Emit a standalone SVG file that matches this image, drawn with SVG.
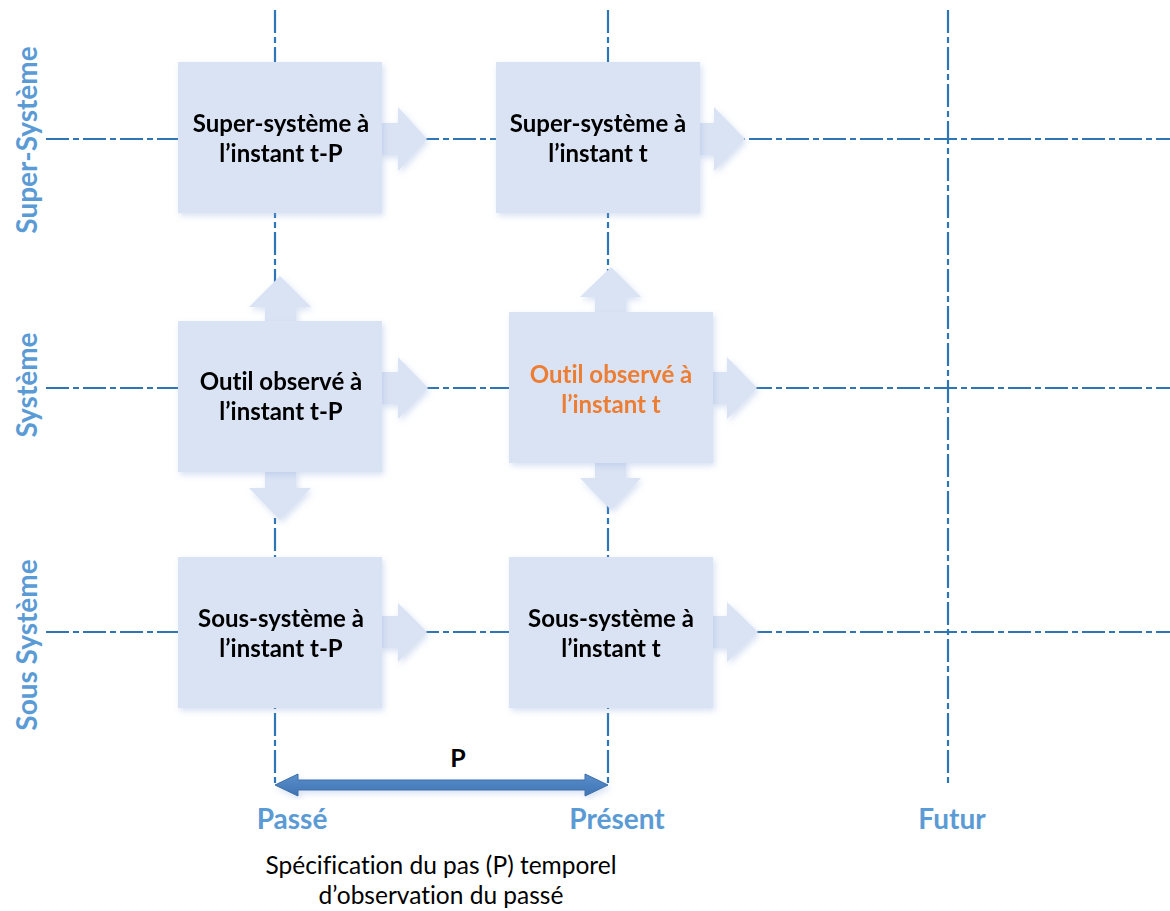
<svg xmlns="http://www.w3.org/2000/svg" width="1170" height="911" viewBox="0 0 1170 911">
  <defs>
    <filter id="soft" x="-10%" y="-10%" width="125%" height="125%">
      <feGaussianBlur in="SourceAlpha" stdDeviation="3"/>
      <feOffset dx="2" dy="3" result="b"/>
      <feFlood flood-color="#8faadc" flood-opacity="0.35"/>
      <feComposite in2="b" operator="in"/>
      <feMerge><feMergeNode/><feMergeNode in="SourceGraphic"/></feMerge>
    </filter>
    <linearGradient id="pgrad" x1="0" y1="0" x2="0" y2="1">
      <stop offset="0" stop-color="#5a8ecb"/>
      <stop offset="1" stop-color="#3f74b3"/>
    </linearGradient>
  </defs>
  <style>
    text { font-variant-ligatures: none; }
    .grid { stroke: #2e75b6; stroke-width: 2.2; stroke-dasharray: 23 4 6 4; fill: none; }
    .box { fill: #dae3f3; }
    .flow { fill: #dae3f3; }
    .lbl { font-family: Lato, "Liberation Sans", sans-serif; font-weight: bold; font-size: 24px; fill: #000; text-anchor: middle; }
    .hot { fill: #ed7d31; }
    .axis { font-family: Lato, "Liberation Sans", sans-serif; font-weight: bold; font-size: 28px; fill: #5b9bd5; text-anchor: middle; }
    .note { font-family: Lato, "Liberation Sans", sans-serif; font-size: 24.5px; fill: #000; text-anchor: middle; }
  </style>
  <rect width="1170" height="911" fill="#fff"/>

  <!-- dash-dot guide lines: time columns and system levels -->
  <g id="guides">
    <line class="grid" x1="275" y1="10" x2="275" y2="785"/>
    <line class="grid" x1="608" y1="10" x2="608" y2="785"/>
    <line class="grid" x1="948" y1="10" x2="948" y2="785"/>
    <line class="grid" x1="46" y1="139" x2="1170" y2="139"/>
    <line class="grid" x1="46" y1="388" x2="1170" y2="388"/>
    <line class="grid" x1="46" y1="632" x2="1170" y2="632"/>
  </g>

  <!-- block arrows between states -->
  <g id="connectors" filter="url(#soft)">
    <!-- time flow, super-system row -->
    <polygon class="flow" points="380,123 398,123 398,107 427,139 398,171 398,155 380,155"/>
    <polygon class="flow" points="698,123 714,123 714,107 745,139 714,171 714,155 698,155"/>
    <!-- time flow, system row -->
    <polygon class="flow" points="380,372 398,372 398,357 428,388 398,419 398,404 380,404"/>
    <polygon class="flow" points="711,372 727,372 727,357 757,388 727,419 727,404 711,404"/>
    <!-- time flow, sub-system row -->
    <polygon class="flow" points="380,616 398,616 398,603 427,632 398,662 398,648 380,648"/>
    <polygon class="flow" points="711,616 727,616 727,602 758,632 727,662 727,648 711,648"/>
    <!-- vertical links from observed tool at t-P -->
    <polygon class="flow" points="265,323 265,307 249,307 280,276 311,307 296,307 296,323"/>
    <polygon class="flow" points="265,470 265,488 249,488 280,520 311,488 296,488 296,470"/>
    <!-- vertical links from observed tool at t -->
    <polygon class="flow" points="595,314 595,297 580,297 611,267 641,297 626,297 626,314"/>
    <polygon class="flow" points="595,461 595,478 580,478 611,510 641,478 626,478 626,461"/>
  </g>

  <g id="n-super-tp" filter="url(#soft)">
    <rect class="box" x="178" y="62" width="204" height="151"/>
    <text class="lbl" x="281" y="132">Super-système à</text>
    <text class="lbl" x="281" y="162">l’instant t-P</text>
  </g>
  <g id="n-super-t" filter="url(#soft)">
    <rect class="box" x="496" y="62" width="204" height="151"/>
    <text class="lbl" x="598" y="132">Super-système à</text>
    <text class="lbl" x="598" y="162">l’instant t</text>
  </g>
  <g id="n-outil-tp" filter="url(#soft)">
    <rect class="box" x="178" y="321" width="204" height="151"/>
    <text class="lbl" x="281" y="390">Outil observé à</text>
    <text class="lbl" x="281" y="420">l’instant t-P</text>
  </g>
  <g id="n-outil-t" filter="url(#soft)">
    <rect class="box" x="509" y="312" width="204" height="151"/>
    <text class="lbl hot" x="611" y="383">Outil observé à</text>
    <text class="lbl hot" x="611" y="413">l’instant t</text>
  </g>
  <g id="n-sous-tp" filter="url(#soft)">
    <rect class="box" x="178" y="557" width="204" height="151"/>
    <text class="lbl" x="281" y="627">Sous-système à</text>
    <text class="lbl" x="281" y="657">l’instant t-P</text>
  </g>
  <g id="n-sous-t" filter="url(#soft)">
    <rect class="box" x="509" y="557" width="204" height="151"/>
    <text class="lbl" x="611" y="627">Sous-système à</text>
    <text class="lbl" x="611" y="657">l’instant t</text>
  </g>

  <!-- level labels -->
  <g id="levels">
    <text class="axis" transform="translate(37,140) rotate(-90)">Super-Système</text>
    <text class="axis" transform="translate(37,385) rotate(-90)">Système</text>
    <text class="axis" transform="translate(37,645) rotate(-90)">Sous Système</text>
  </g>

  <!-- step P between past and present -->
  <g id="step">
    <polygon points="275,785 298,774 298,780 585,780 585,774 608,785 585,796 585,790 298,790 298,796" fill="url(#pgrad)" stroke="#3a6ea8" stroke-width="1" filter="url(#soft)"/>
    <text class="lbl" x="458" y="767" style="font-size:25px">P</text>
  </g>

  <g id="time-labels">
    <text class="axis" x="292" y="829">Passé</text>
    <text class="axis" x="617" y="829">Présent</text>
    <text class="axis" x="952" y="829">Futur</text>
  </g>

  <g id="caption">
    <text class="note" x="441" y="874">Spécification du pas (P) temporel</text>
    <text class="note" x="441" y="904">d’observation du passé</text>
  </g>
</svg>
